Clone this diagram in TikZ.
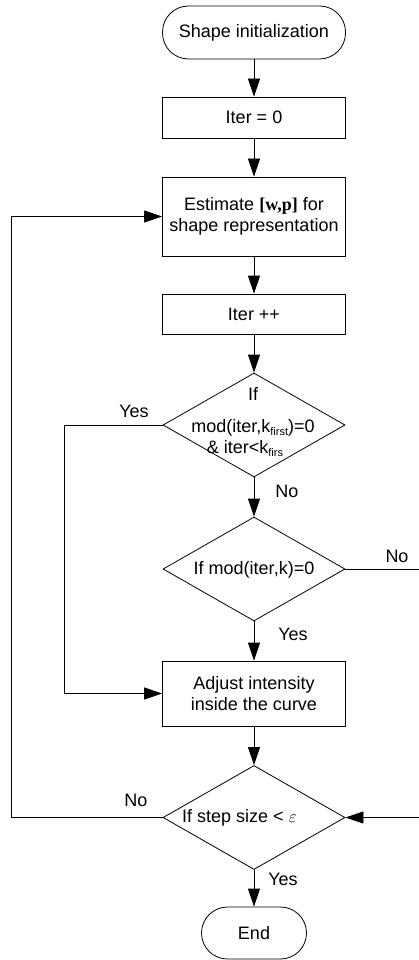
\documentclass[tikz,border=0pt]{standalone}
\usepackage{fontspec}
\setmainfont{Liberation Sans}
\newfontfamily\serifbf{Liberation Serif}
\usetikzlibrary{arrows.meta,shapes.geometric}
% small lowered index text, e.g. k_first
\newcommand\lowtext[1]{\raisebox{-3.5pt}{\fontsize{11}{12}\selectfont #1}}
\begin{document}
\begin{tikzpicture}[x=1pt,y=-1pt,
  every node/.style={font=\fontsize{18}{21}\selectfont, inner sep=0pt},
  line/.style={line width=0.8pt},
  arr/.style={line, -{Triangle[length=18pt,width=12pt]}},
  terminal/.style={draw, line width=0.8pt, rounded corners=26pt,
                   minimum width=183pt, minimum height=53pt},
  proc/.style={draw, line width=0.8pt, minimum width=183pt},
  decision/.style={draw, line width=0.8pt, diamond,
                   minimum width=182pt, minimum height=104pt},
  lbl/.style={font=\fontsize{18}{21}\selectfont}
]
\useasboundingbox (0,0) rectangle (419,960);

% main column
\node[terminal] (start) at (254,32.5) {Shape initialization};
\node[proc, minimum height=41pt] (it0) at (254,117.5) {Iter = 0};
\node[proc, minimum height=79pt, align=center] (est) at (254,216.5)
  {Estimate {\serifbf\bfseries[w,p]} for\\shape representation};
\node[proc, minimum height=40pt] (itp) at (254,314) {Iter ++};
\node[decision] (d1) at (254,425) {};
\node[decision] (d2) at (254,569) {};
\node[proc, minimum height=65pt, align=center] (adj) at (254,693.5)
  {Adjust intensity\\inside the curve};
\node[decision] (d3) at (254,817.5) {};
\node[terminal, minimum width=105pt, minimum height=52pt] (end) at (254,933) {End};

% decision texts
\node[anchor=base] (d1a) at (253,400) {If};
\node[anchor=base] (d1b) at (253,432) {mod(iter,k\lowtext{first})=0};
\node[anchor=base] (d1c) at (245,453) {\&~iter<k\lowtext{firs}};
\node (d2t) at (254,570) {If mod(iter,k)=0};
\node[anchor=west] (d3t) at (182,818) {If step size < $\varepsilon$};

% straight flow
\draw[arr] (start) -- (it0);
\draw[arr] (it0) -- (est);
\draw[arr] (est) -- (itp);
\draw[arr] (itp) -- (d1);
\draw[arr] (d1) -- (d2);
\draw[arr] (d2) -- (adj);
\draw[arr] (adj) -- (d3);
\draw[arr] (d3) -- (end);

% side branches
\draw[arr] (d1.west) -- ++(-98,0) |- (adj.west);
\draw[arr] (d3.west) -- ++(-151,0) |- (est.west);
\draw[arr] (d2.east) -- ++(73.5,0) |- (d3.east);

% branch labels
\node[lbl] (l1) at (134,411) {Yes};
\node[lbl] (l2) at (287,491) {No};
\node[lbl] (l3) at (397,556) {No};
\node[lbl] (l4) at (293,634) {Yes};
\node[lbl] (l5) at (136,800) {No};
\node[lbl] (l6) at (283,879) {Yes};
\end{tikzpicture}
\end{document}
